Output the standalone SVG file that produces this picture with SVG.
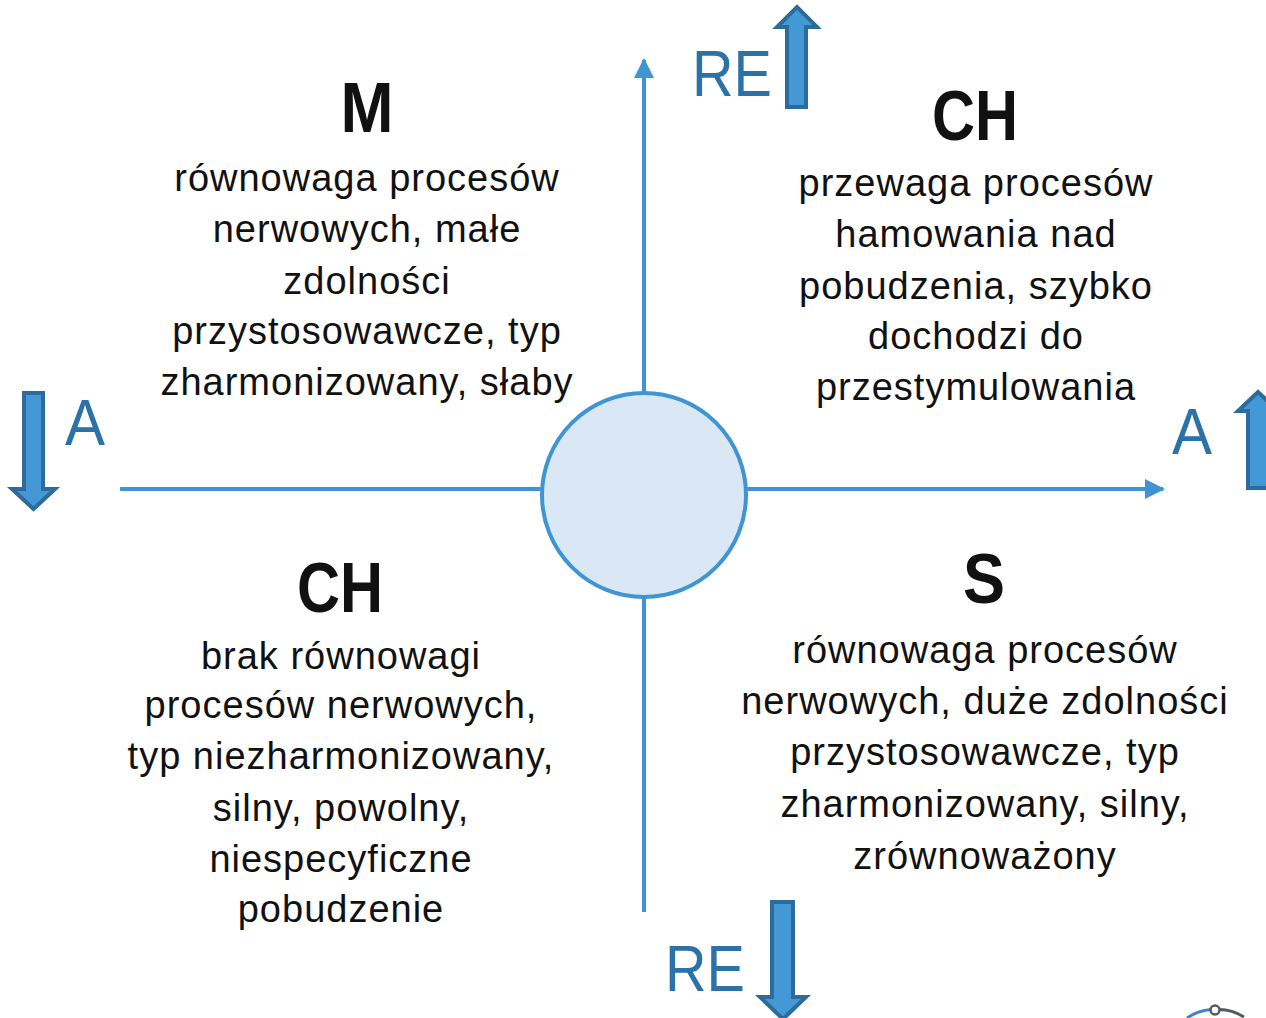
<svg xmlns="http://www.w3.org/2000/svg" width="1266" height="1018" viewBox="0 0 1266 1018">
<style>
.body{font-family:"Liberation Sans",Arial,sans-serif;font-size:38px;letter-spacing:1px;fill:#111;text-anchor:middle}
.head{font-family:"Liberation Sans",Arial,sans-serif;font-size:70px;font-weight:bold;fill:#111;text-anchor:middle}
.lab{font-family:"Liberation Sans",Arial,sans-serif;font-size:65px;fill:#2a72a8}
.axis{stroke:#3f95d3;stroke-width:4;fill:none}
.blk{fill:#4398d6;stroke:#2c6b9c;stroke-width:4;stroke-linejoin:miter}
</style>
<defs>
<marker id="ah" viewBox="0 0 10 10" refX="9" refY="5" markerWidth="5" markerHeight="5" markerUnits="strokeWidth" orient="auto">
<path d="M0,0 L10,5 L0,10 z" fill="#3f95d3"/>
</marker>
</defs>
<rect width="1266" height="1018" fill="#fff"/>
<g id="connectors">
<line class="axis" x1="644" y1="912" x2="644" y2="60" marker-end="url(#ah)"/>
<line class="axis" x1="120" y1="489" x2="1163" y2="489" marker-end="url(#ah)"/>
</g>
<g id="center">
<circle cx="644" cy="495" r="102" fill="#dae8f5" stroke="#3f95d3" stroke-width="4"/>
</g>
<g id="node-M">
<text class="head" x="367" y="132" textLength="53" lengthAdjust="spacingAndGlyphs">M</text>
<text class="body" x="367" y="191">równowaga procesów</text>
<text class="body" x="367" y="242">nerwowych, małe</text>
<text class="body" x="367" y="294">zdolności</text>
<text class="body" x="367" y="344">przystosowawcze, typ</text>
<text class="body" x="367" y="395">zharmonizowany, słaby</text>
</g>
<g id="node-CH-top">
<text class="head" x="975" y="140" textLength="86" lengthAdjust="spacingAndGlyphs">CH</text>
<text class="body" x="976" y="196">przewaga procesów</text>
<text class="body" x="976" y="247">hamowania nad</text>
<text class="body" x="976" y="299">pobudzenia, szybko</text>
<text class="body" x="976" y="349">dochodzi do</text>
<text class="body" x="976" y="400">przestymulowania</text>
</g>
<g id="node-CH-bottom">
<text class="head" x="340" y="612" textLength="86" lengthAdjust="spacingAndGlyphs">CH</text>
<text class="body" x="341" y="669">brak równowagi</text>
<text class="body" x="341" y="718">procesów nerwowych,</text>
<text class="body" x="341" y="769">typ niezharmonizowany,</text>
<text class="body" x="341" y="821">silny, powolny,</text>
<text class="body" x="341" y="872">niespecyficzne</text>
<text class="body" x="341" y="922">pobudzenie</text>
</g>
<g id="node-S">
<text class="head" x="984" y="603" textLength="42" lengthAdjust="spacingAndGlyphs">S</text>
<text class="body" x="985" y="663">równowaga procesów</text>
<text class="body" x="985" y="714">nerwowych, duże zdolności</text>
<text class="body" x="985" y="765">przystosowawcze, typ</text>
<text class="body" x="985" y="817">zharmonizowany, silny,</text>
<text class="body" x="985" y="869">zrównoważony</text>
</g>
<g id="label-RE-top">
<text class="lab" x="692" y="96" textLength="80" lengthAdjust="spacingAndGlyphs">RE</text>
<path class="blk" d="M787,107 L787,27 L777,27 L797,7 L817,27 L806,27 L806,107 Z"/>
</g>
<g id="label-RE-bottom">
<text class="lab" x="665" y="991" textLength="80" lengthAdjust="spacingAndGlyphs">RE</text>
<path class="blk" d="M772,902 L793,902 L793,997 L806,997 L783,1019 L760,997 L772,997 Z"/>
</g>
<g id="label-A-left">
<text class="lab" x="65" y="445" textLength="40" lengthAdjust="spacingAndGlyphs">A</text>
<path class="blk" d="M24,393 L43,393 L43,489 L55,489 L33.5,509 L12,489 L24,489 Z"/>
</g>
<g id="label-A-right">
<text class="lab" x="1172" y="454" textLength="40" lengthAdjust="spacingAndGlyphs">A</text>
<path class="blk" d="M1248,488 L1248,411 L1238,411 L1258,392 L1278,411 L1268,411 L1268,488 Z"/>
</g>
<g id="corner-icon">
<path d="M1187,1018 A48,48 0 0 1 1211,1009.5" fill="none" stroke="#3f85c6" stroke-width="3"/>
<path d="M1219,1009.5 A48,48 0 0 1 1244,1017" fill="none" stroke="#555a60" stroke-width="3"/>
<circle cx="1215" cy="1010" r="4.5" fill="#fff" stroke="#555a60" stroke-width="2.5"/>
</g>
</svg>
